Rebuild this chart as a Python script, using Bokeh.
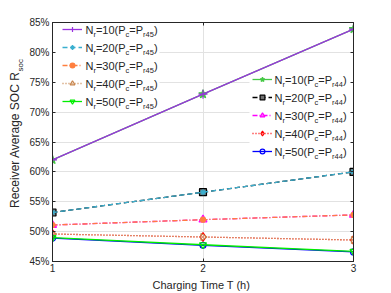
import math
from bokeh.plotting import figure
from bokeh.layouts import row
from bokeh.core.properties import value
from bokeh.models import (FixedTicker, PrintfTickFormatter, LinearAxis, Range1d, Legend,
                          LegendItem, Label, LabelSet, ColumnDataSource, CustomJSTickFormatter,
                          BoxAnnotation)
from bokeh.embed import file_html
from bokeh.resources import INLINE

# ---------------- data ----------------
charging_time = [1, 2, 3]
x_ticks = [1, 2, 3]
y_ticks = [45, 50, 55, 60, 65, 70, 75, 80, 85]

soc_nr10_p45 = [62.0, 73.0, 83.9]
soc_nr20_p45 = [53.2, 56.6, 60.0]
soc_nr30_p45 = [51.1, 52.0, 52.8]
soc_nr40_p45 = [49.6, 49.1, 48.6]
soc_nr50_p45 = [49.0, 47.8, 46.7]

soc_nr10_p44 = [62.0, 73.0, 83.9]
soc_nr20_p44 = [53.2, 56.6, 60.0]
soc_nr30_p44 = [51.1, 52.0, 52.8]
soc_nr40_p44 = [49.6, 49.1, 48.6]
soc_nr50_p44 = [48.9, 47.7, 46.6]

nr_values = ["10", "20", "30", "40", "50"]

FONT = "Liberation Sans"
TXT = "#262626"

# ---------------- geometry (page pixels) ----------------
TOTAL_W, H = 391, 293
LW = 26                      # narrow left panel that carries the y-axis title
W = TOTAL_W - LW
FRAME_L, FRAME_R, FRAME_T, FRAME_B = 50, 353, 22, 261
ML = FRAME_L - LW
MR = TOTAL_W - FRAME_R
MT = FRAME_T
MB = H - FRAME_B
FW, FH = FRAME_R - FRAME_L, FRAME_B - FRAME_T

p = figure(width=W, height=H, x_range=Range1d(1, 3), y_range=Range1d(45, 85),
           output_backend="svg", toolbar_location=None,
           min_border_left=ML, min_border_right=MR, min_border_top=MT, min_border_bottom=MB)
p.background_fill_color = "white"
p.border_fill_color = "white"
p.outline_line_color = TXT
p.outline_line_width = 1

p.xaxis.ticker = FixedTicker(ticks=x_ticks)
p.yaxis.ticker = FixedTicker(ticks=y_ticks)
p.yaxis.formatter = PrintfTickFormatter(format="%d%%")
for ax in (p.xaxis[0], p.yaxis[0]):
    ax.major_tick_in = 3
    ax.major_tick_out = 0
    ax.minor_tick_line_color = None
    ax.axis_line_color = TXT
    ax.major_tick_line_color = TXT
    ax.major_label_text_font = FONT
    ax.major_label_text_font_size = "10px"
    ax.major_label_text_color = TXT
    ax.major_label_standoff = 3
p.xaxis.major_label_standoff = 2
p.xaxis.axis_label = "Charging Time  T (h)"
p.xaxis.axis_label_text_font = FONT
p.xaxis.axis_label_text_font_size = "11px"
p.xaxis.axis_label_text_font_style = "normal"
p.xaxis.axis_label_text_color = TXT
p.xaxis.axis_label_standoff = 4

blank = CustomJSTickFormatter(code="return ''")
top_ax = LinearAxis(ticker=FixedTicker(ticks=x_ticks), formatter=blank, major_tick_in=3,
                    major_tick_out=0, minor_tick_line_color=None, axis_line_color=TXT,
                    major_tick_line_color=TXT, major_label_standoff=0,
                    major_label_text_font_size="1px")
right_ax = LinearAxis(ticker=FixedTicker(ticks=y_ticks), formatter=blank, major_tick_in=3,
                      major_tick_out=0, minor_tick_line_color=None, axis_line_color=TXT,
                      major_tick_line_color=TXT, major_label_standoff=0,
                      major_label_text_font_size="1px")
p.add_layout(top_ax, "above")
p.add_layout(right_ax, "right")

p.xgrid.ticker = FixedTicker(ticks=x_ticks)
p.ygrid.ticker = FixedTicker(ticks=y_ticks)
p.xgrid.grid_line_color = "#E2E2E2"
p.ygrid.grid_line_color = "#E2E2E2"


def fy(py):
    # page y -> frame-relative screen y (from frame bottom, upward)
    return FH - (py - FRAME_T)


def fx(px):
    return px - FRAME_L


# white legend backgrounds (drawn above the grid, below the data)
for l, r, t, b in ((52, 157, 22, 109), (247, 349, 72, 158)):
    p.add_layout(BoxAnnotation(left=fx(l), right=fx(r), top=fy(t), bottom=fy(b),
                               left_units="screen", right_units="screen",
                               top_units="screen", bottom_units="screen",
                               fill_color="white", fill_alpha=1.0, line_color=None,
                               level="underlay"))

# ---------------- series ----------------
p44_specs = [
    (soc_nr10_p44, "#44C844", "solid", "star", 9, "#44C844", 0.0),
    (soc_nr20_p44, "#000000", "5 3", "square", 7, "#707070", 0.0),
    (soc_nr30_p44, "#FF00FF", "5 2 1 2", "triangle", 8, "#FF66FF", 0.0),
    (soc_nr40_p44, "#FF0000", "1 2", "diamond", 9, None, 0.0),
    (soc_nr50_p44, "#0000FF", "solid", "circle", 6, None, 0.0),
]
p45_specs = [
    (soc_nr10_p45, "#9A32E0", "solid", "cross", 9, None, 0.0),
    (soc_nr20_p45, "#3AAFCF", "5 3", "asterisk", 6, None, 0.0),
    (soc_nr30_p45, "#FF7F3F", "5 2 1 2", "circle", 5, "#FF7F3F", 0.0),
    (soc_nr40_p45, "#C8864E", "1 2", "triangle", 7, None, -math.pi / 2),
    (soc_nr50_p45, "#00EE00", "solid", "inverted_triangle", 7, None, 0.0),
]


def draw(specs):
    items = []
    for vals, col, dash, mk, sz, fill, ang in specs:
        src = ColumnDataSource(dict(t=charging_time, v=vals))
        lr = p.line("t", "v", source=src, line_color=col, line_width=1.3, line_dash=dash)
        sr = p.scatter("t", "v", source=src, marker=mk, size=sz, line_color=col,
                       line_width=1.2, fill_color=fill, angle=ang)
        items.append(LegendItem(label=" ", renderers=[lr, sr]))
    return items


items44 = draw(p44_specs)
items45 = draw(p45_specs)


def make_legend(items, left_px, top_px):
    leg_h = 2 * 1 + 5 * 12 + 4 * 6
    leg = Legend(items=items, location=(fx(left_px), fy(top_px + leg_h)),
                 glyph_width=20, glyph_height=12, label_height=12, label_width=20,
                 label_standoff=3, label_text_font_size="6px", spacing=6, padding=1,
                 margin=0, border_line_alpha=0, background_fill_alpha=0.0)
    p.add_layout(leg)


make_legend(items45, 59, 22)
make_legend(items44, 249, 72)

# ---------------- legend texts with subscripts ----------------
ARIAL = {'N': 722, 'r': 333, '=': 584, '0': 556, '1': 556, '2': 556, '3': 556, '4': 556,
         '5': 556, '(': 333, ')': 333, 'P': 667, 'c': 500}
MAIN_SZ, SUB_SZ = 11.0, 7.5


def tw(s, sz):
    return sum(ARIAL[ch] for ch in s) * sz / 1000.0


main_d = dict(x=[], y=[], text=[])
sub_d = dict(x=[], y=[], text=[])


def legend_text(x0_px, yc_px, nr, pr):
    pieces = [("N", 0), ("r", 1), ("=%s(P" % nr, 0), ("c", 1), ("=P", 0), ("r" + pr, 1), (")", 0)]
    x = fx(x0_px)
    for s, is_sub in pieces:
        d, yy, sz = (sub_d, yc_px + 7, SUB_SZ) if is_sub else (main_d, yc_px + 4, MAIN_SZ)
        d["x"].append(x)
        d["y"].append(fy(yy))
        d["text"].append(s)
        x += tw(s, sz)


for i, nr in enumerate(nr_values):
    legend_text(83, 29 + 18 * i, nr, "45")
    legend_text(272, 79 + 18 * i, nr, "44")

for d, sz in ((main_d, MAIN_SZ), (sub_d, SUB_SZ)):
    p.add_layout(LabelSet(x="x", y="y", text="text", source=ColumnDataSource(d),
                          x_units="screen", y_units="screen", text_font=value(FONT),
                          text_font_size=value("%gpx" % sz), text_color=TXT,
                          text_baseline="alphabetic", text_align="left"))

# ---------------- y axis title (with subscript) in a narrow side figure ----------------
side = figure(width=LW, height=H, x_range=Range1d(0, 1), y_range=Range1d(0, 1),
              output_backend="svg", toolbar_location=None, x_axis_type=None, y_axis_type=None,
              min_border=0, min_border_left=0, min_border_right=0, min_border_top=0,
              min_border_bottom=0)
side.grid.visible = False
side.outline_line_color = None
side.background_fill_color = "white"
side.border_fill_color = "white"

J = 83          # page y where the main text ends and the subscript starts
SIDE_BOTTOM = 20  # observed offset of the side figure's frame bottom from its canvas bottom
side.add_layout(Label(x=14, y=H - SIDE_BOTTOM - J, x_units="screen", y_units="screen",
                      text="Receiver Average SOC R", text_font=FONT, text_font_size="12px",
                      text_color=TXT, text_align="right", text_baseline="middle",
                      angle=math.pi / 2))
side.add_layout(Label(x=19.5, y=H - SIDE_BOTTOM - J, x_units="screen", y_units="screen",
                      text="soc", text_font=FONT, text_font_size="8px",
                      text_color=TXT, text_align="left", text_baseline="middle",
                      angle=math.pi / 2))

layout = row(side, p, spacing=0)
open("out.html", "w").write(file_html(layout, INLINE))
